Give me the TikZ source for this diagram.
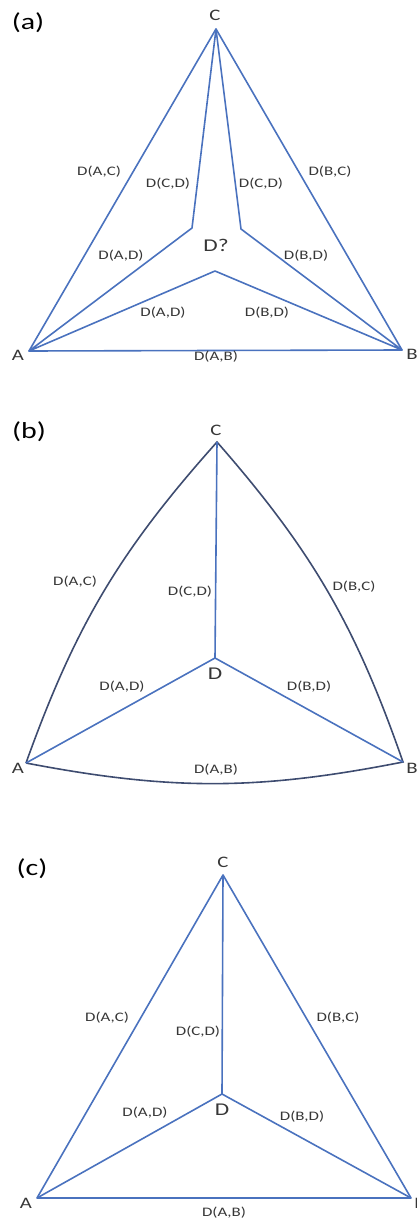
\documentclass[tikz,border=0pt]{standalone}
\usepackage{fontspec}
\usepackage{xcolor}
\usepackage{tikz}
\newfontfamily\lblfont{Carlito}[FakeStretch=1.3]
\definecolor{sideblue}{RGB}{74,114,190}
\definecolor{arcnavy}{RGB}{62,76,112}
\definecolor{txtgray}{RGB}{55,55,55}
\begin{document}
\begin{tikzpicture}[x=1pt,y=-1pt,
side/.style={sideblue,line width=1.6pt,line join=round},
curved/.style={arcnavy,line width=1.6pt},
lab/.style={txtgray,font=\lblfont\fontsize{13}{13}\selectfont},
vlab/.style={txtgray,font=\lblfont\fontsize{16}{16}\selectfont},
ptag/.style={black,font=\lblfont\fontsize{23}{23}\selectfont}]
\useasboundingbox(0,0)rectangle(417,1222);
\coordinate(aA)at(29,351);\coordinate(aB)at(402,350);\coordinate(aC)at(216,29);
\coordinate(aP)at(192,228);\coordinate(aQ)at(241,229);\coordinate(aR)at(215,271);
\draw[side](aA)--(aB)--(aC)--cycle;
\draw[side](aC)--(aP)--(aA)--(aR)--(aB)--(aQ)--(aC);
\node[ptag](ta)at(28,23){(a)};
\node[vlab](laA)at(18,355){A};
\node[vlab](laB)at(412,354){B};
\node[vlab](laC)at(215,15){C};
\node[vlab,font=\lblfont\fontsize{18}{18}\selectfont](laD)at(216,245){D?};
\node[lab](aAC)at(99,172){D(A,C)};
\node[lab](aCD1)at(168,184){D(C,D)};
\node[lab](aCD2)at(261,184){D(C,D)};
\node[lab](aBC)at(330,172){D(B,C)};
\node[lab](aAD1)at(121,256){D(A,D)};
\node[lab](aBD1)at(306,256){D(B,D)};
\node[lab](aAD2)at(163,313){D(A,D)};
\node[lab](aBD2)at(267,313){D(B,D)};
\node[lab](aAB)at(216,357){D(A,B)};
\coordinate(bA)at(26,763);\coordinate(bB)at(403,762);\coordinate(bC)at(217,442);
\coordinate(bD)at(215,658);
\draw[curved](bA)to[bend left=11](bC)to[bend left=11](bB)to[bend left=11](bA);
\draw[side](bC)--(bD)--(bA)(bD)--(bB);
\node[ptag](tb)at(29,432){(b)};
\node[vlab](lbA)at(18,768){A};
\node[vlab](lbB)at(412,768){B};
\node[vlab](lbC)at(216,430){C};
\node[vlab,font=\lblfont\fontsize{18}{18}\selectfont](lbD)at(215,674){D};
\node[lab](bAC)at(75,582){D(A,C)};
\node[lab](bCD)at(190,592){D(C,D)};
\node[lab](bBC)at(354,587){D(B,C)};
\node[lab](bAD)at(122,687){D(A,D)};
\node[lab](bBD)at(309,687){D(B,D)};
\node[lab](bAB)at(216,770){D(A,B)};
\coordinate(cA)at(37,1198);\coordinate(cB)at(411,1198);\coordinate(cC)at(223,875);
\coordinate(cD)at(222,1094);
\draw[side](cA)--(cB)--(cC)--cycle;
\draw[side](cC)--(cD)--(cA)(cD)--(cB);
\node[ptag](tc)at(32,869){(c)};
\node[vlab](lcA)at(26,1203){A};
\node[vlab](lcB)at(420,1203){B};
\node[vlab](lcC)at(223,862){C};
\node[vlab,font=\lblfont\fontsize{18}{18}\selectfont](lcD)at(222,1110){D};
\node[lab](cAC)at(107,1018){D(A,C)};
\node[lab](cCD)at(198,1032){D(C,D)};
\node[lab](cBC)at(338,1018){D(B,C)};
\node[lab](cAD)at(145,1113){D(A,D)};
\node[lab](cBD)at(302,1117){D(B,D)};
\node[lab](cAB)at(224,1213){D(A,B)};
\end{tikzpicture}
\end{document}
